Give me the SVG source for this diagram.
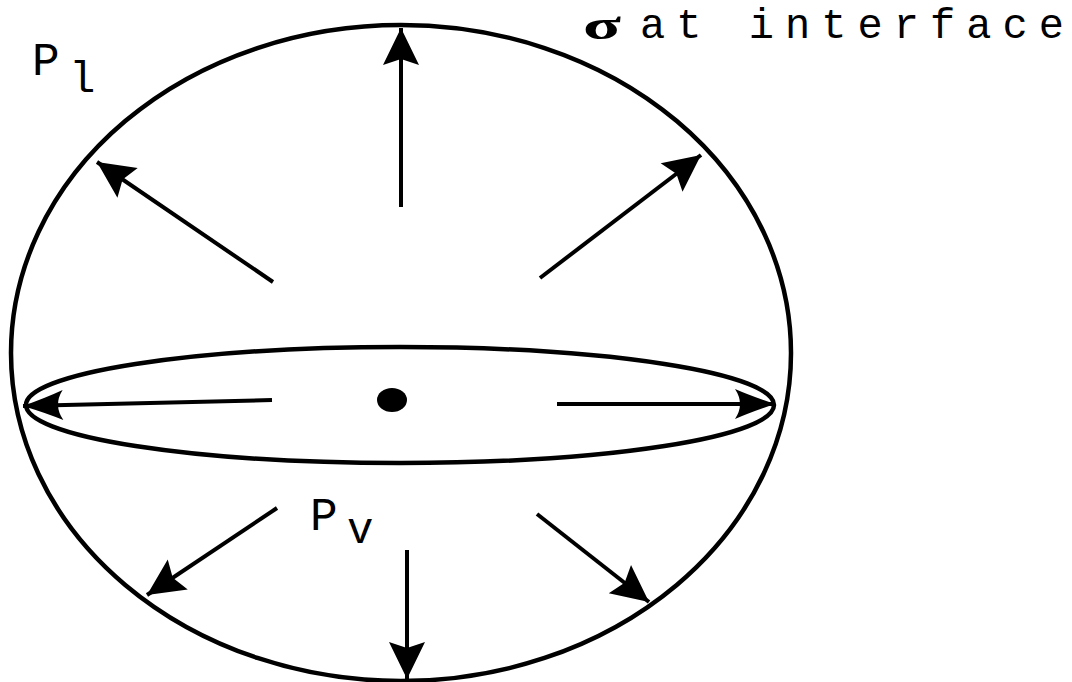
<svg xmlns="http://www.w3.org/2000/svg" width="1072" height="682" viewBox="0 0 1072 682">
<style>
.shape{fill:none;stroke:#000;stroke-width:4.5}
.arr{stroke:#000;stroke-width:4;fill:none}
.lbl{font-family:"Courier New","Liberation Mono",monospace;font-size:46px;fill:#000}
.sub{font-family:"Courier New","Liberation Mono",monospace;font-size:44px;fill:#000}
</style>
<defs>
<marker id="ah" markerUnits="userSpaceOnUse" markerWidth="50" markerHeight="50" viewBox="-45 -25 50 50" refX="0" refY="0" orient="auto">
<path d="M0,0 L-37,-18 L-31,0 L-37,18 Z" fill="#000"/>
</marker>
<marker id="ahh" markerUnits="userSpaceOnUse" markerWidth="50" markerHeight="50" viewBox="-45 -25 50 50" refX="0" refY="0" orient="auto">
<path d="M0,0 Q-24,-8 -40,-15 Q-30,0 -40,15 Q-24,8 0,0 Z" fill="#000"/>
</marker>
</defs>
<rect width="1072" height="682" fill="#fff"/>
<g id="outer-sphere">
<ellipse class="shape" cx="401" cy="353" rx="390" ry="328"/>
</g>
<g id="interface-disc">
<ellipse class="shape" cx="400" cy="405" rx="374" ry="58"/>
</g>
<g id="center-dot">
<ellipse cx="392" cy="400" rx="15" ry="12" fill="#000"/>
</g>
<g id="connectors">
<line class="arr" x1="401" y1="207" x2="401" y2="28" marker-end="url(#ah)"/>
<line class="arr" x1="273" y1="282" x2="97" y2="162" marker-end="url(#ah)"/>
<line class="arr" x1="540" y1="278" x2="701" y2="155" marker-end="url(#ah)"/>
<line class="arr" x1="272" y1="400" x2="23" y2="406" marker-end="url(#ahh)"/>
<line class="arr" x1="557" y1="404" x2="775" y2="404" marker-end="url(#ahh)"/>
<line class="arr" x1="277" y1="508" x2="147" y2="595" marker-end="url(#ah)"/>
<line class="arr" x1="407" y1="550" x2="407" y2="679" marker-end="url(#ah)"/>
<line class="arr" x1="537" y1="514" x2="649" y2="602" marker-end="url(#ah)"/>
</g>
<g id="label-sigma">
<text x="583" y="39" font-family="'Liberation Serif',serif" font-weight="bold" font-size="42" textLength="38" lengthAdjust="spacingAndGlyphs">σ</text>
<text class="lbl" x="640" y="38" textLength="424" lengthAdjust="spacing" style="font-size:42px">at interface</text>
</g>
<g id="label-pl">
<text class="lbl" x="32" y="75">P</text>
<text class="sub" x="69" y="92">l</text>
</g>
<g id="label-pv">
<text class="lbl" x="310" y="530">P</text>
<text class="sub" x="347" y="543">v</text>
</g>
</svg>
